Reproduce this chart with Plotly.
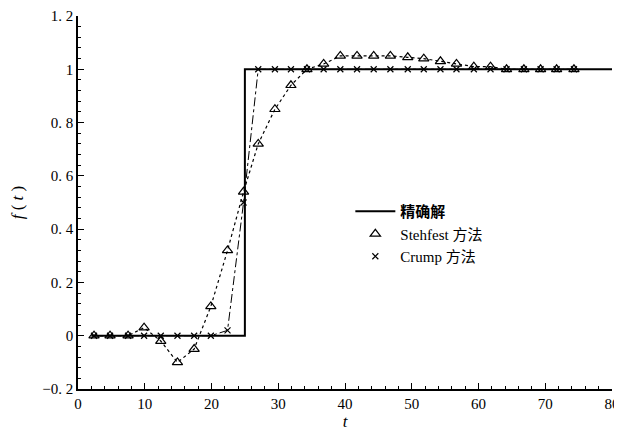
import plotly.graph_objects as go

# Data
t_vals = [2.4, 4.8, 7.5, 9.9, 12.4, 14.9, 17.4, 19.9, 22.4, 24.8, 27.0, 29.5, 31.9, 34.3,
          36.8, 39.3, 41.8, 44.3, 46.8, 49.4, 51.8, 54.3, 56.7, 59.3, 61.8, 64.2, 66.8,
          69.3, 71.7, 74.3]
stehfest = [0.0, 0.0, 0.0, 0.03, -0.02, -0.10, -0.05, 0.11, 0.32, 0.54, 0.72, 0.85, 0.94,
            1.0, 1.02, 1.05, 1.05, 1.05, 1.05, 1.045, 1.04, 1.03, 1.02, 1.01, 1.01, 1.0,
            1.0, 1.0, 1.0, 1.0]
crump = [0.0, 0.0, 0.0, 0.0, 0.0, 0.0, 0.0, 0.0, 0.02, 0.50, 1.0, 1.0, 1.0, 1.0, 1.0, 1.0,
         1.0, 1.0, 1.0, 1.0, 1.0, 1.0, 1.0, 1.0, 1.0, 1.0, 1.0, 1.0, 1.0, 1.0]
exact_t = [2, 25, 25, 80]
exact_f = [0, 0, 1, 1]

x_ticks = [0, 10, 20, 30, 40, 50, 60, 70, 80]
y_ticks = [-0.2, 0, 0.2, 0.4, 0.6, 0.8, 1.0, 1.2]
y_ticktext = ["\u22120. 2", "0", "0. 2", "0. 4", "0. 6", "0. 8", "1", "1. 2"]

names = ["<b>精确解</b>", "Stehfest 方法", "Crump 方法"]

SERIF = "Liberation Serif, Noto Sans CJK SC, serif"

fig = go.Figure()
fig.add_trace(go.Scatter(x=exact_t, y=exact_f, mode="lines", name=names[0],
                         line=dict(color="black", width=2)))
fig.add_trace(go.Scatter(x=t_vals, y=stehfest, mode="lines+markers", showlegend=False,
                         line=dict(color="black", width=1.2, dash="dot"),
                         marker=dict(symbol="triangle-up-open", size=9, color="black",
                                     line=dict(width=1.2))))
fig.add_trace(go.Scatter(x=t_vals, y=crump, mode="lines+markers", showlegend=False,
                         line=dict(color="black", width=1, dash="dashdot"),
                         marker=dict(symbol="x-thin-open", size=6, color="black",
                                     line=dict(width=1.2))))
# legend entries (markers only, as in reference)
fig.add_trace(go.Scatter(x=[None], y=[None], mode="markers", name=names[1],
                         marker=dict(symbol="triangle-up-open", size=9, color="black",
                                     line=dict(width=1.2))))
fig.add_trace(go.Scatter(x=[None], y=[None], mode="markers", name=names[2],
                         marker=dict(symbol="x-thin-open", size=6, color="black",
                                     line=dict(width=1.2))))

fig.update_layout(
    width=622, height=441,
    margin=dict(l=70, r=18, t=8, b=60, autoexpand=False),
    paper_bgcolor="white", plot_bgcolor="white",
    font=dict(family=SERIF, size=15, color="black"),
    showlegend=True,
    legend=dict(x=0.51, y=0.52, xanchor="left", yanchor="top",
                bgcolor="rgba(0,0,0,0)", font=dict(size=15, family=SERIF),
                itemwidth=40, tracegroupgap=8),
)
fig.update_xaxes(range=[0, 80], tickvals=x_ticks, showgrid=False, zeroline=False,
                 automargin=False, ticklabeloverflow="allow",
                 showline=True, linecolor="black", linewidth=1.5,
                 ticks="inside", ticklen=6, tickcolor="black",
                 minor=dict(dtick=2, ticks="inside", ticklen=3, tickcolor="black"),
                 title=dict(text="<i>t</i>", font=dict(size=17), standoff=4))
fig.update_yaxes(range=[-0.2, 1.2], tickvals=y_ticks, ticktext=y_ticktext, showgrid=False,
                 automargin=False, ticklabeloverflow="allow",
                 zeroline=False, showline=True, linecolor="black", linewidth=1.5,
                 ticks="inside", ticklen=6, tickcolor="black",
                 minor=dict(dtick=0.04, tick0=0, ticks="inside", ticklen=3, tickcolor="black"),
                 title=dict(text="<i>f</i> ( <i>t</i> )", font=dict(size=17), standoff=14))

fig.write_html("out.html")
